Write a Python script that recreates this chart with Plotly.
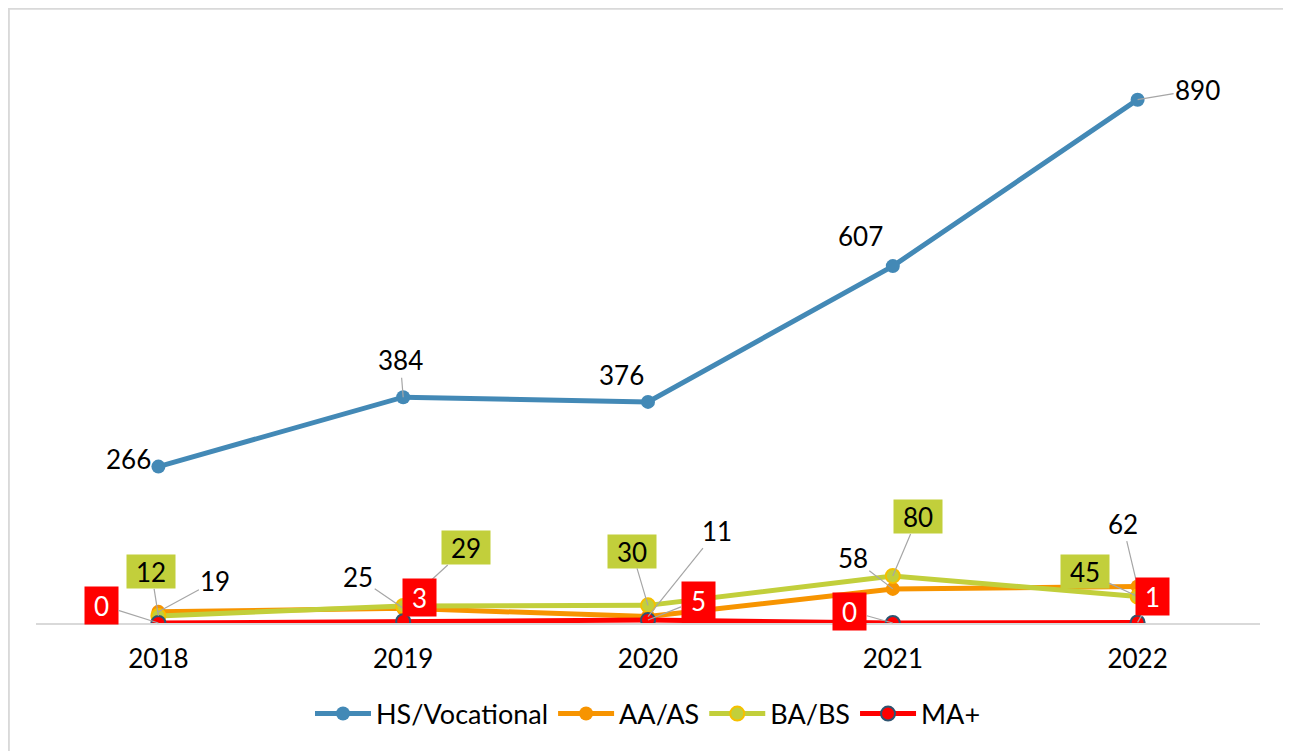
import plotly.graph_objects as go

years = ["2018", "2019", "2020", "2021", "2022"]
hs_vocational = [266, 384, 376, 607, 890]
aa_as = [19, 25, 11, 58, 62]
ba_bs = [12, 29, 30, 80, 45]
ma_plus = [0, 3, 5, 0, 1]

FONT = "Lato"
PAGE_OFF = 8  # default body margin of the html page
W, H = 1291 - PAGE_OFF, 751 - PAGE_OFF
ML, MR, MT, MB = 28, 31, 27, 128
PW, PH = W - ML - MR, H - MT - MB


def px_x(p):
    """screen px -> paper x"""
    return (p - PAGE_OFF - ML) / PW


def px_y(p):
    """screen px -> paper y"""
    return (H - MB - (p - PAGE_OFF)) / PH


series = [
    dict(name="HS/Vocational", y=hs_vocational, color="#4389B6",
         mfill="#4389B6", mline="#4389B6", mlw=0,
         lab=dict(bg=None, fc="#000000"),
         off=[(-30, -8), (-3, -37), (-27, -27), (-32, -30), (60, -10)],
         lead=[False, True, False, False, True]),
    dict(name="AA/AS", y=aa_as, color="#F79400",
         mfill="#F79400", mline="#F79400", mlw=0,
         lab=dict(bg=None, fc="#000000"),
         off=[(57, -31), (-45, -31), (69, -86), (-40, -31), (-15, -63)],
         lead=[True, True, True, True, True]),
    dict(name="BA/BS", y=ba_bs, color="#C2CF3B",
         mfill="#C2CF3B", mline="#F5C000", mlw=2,
         lab=dict(bg="#C2CF3B", fc="#000000", w=48, h=33),
         off=[(-7, -44), (63, -58), (-16, -54), (25, -59), (-53, -25)],
         lead=[True, True, True, True, True]),
    dict(name="MA+", y=ma_plus, color="#FF0000",
         mfill="#FF0000", mline="#2E5470", mlw=2,
         lab=dict(bg="#FF0000", fc="#FFFFFF", w=33, h=37),
         off=[(-57, -18), (16, -24), (50, -20), (-43, -12), (15, -26)],
         lead=[True, False, True, True, True]),
]

fig = go.Figure()
annotations = []
for s in series:
    fig.add_trace(go.Scatter(
        x=years, y=s["y"], name=s["name"], mode="lines+markers",
        line=dict(color=s["color"], width=5),
        marker=dict(size=14, color=s["mfill"],
                    line=dict(color=s["mline"], width=s["mlw"])),
        hoverinfo="skip",
    ))
    for i, yv in enumerate(s["y"]):
        ax, ay = s["off"][i]
        a = dict(x=i, y=yv, xref="x", yref="y", text=str(yv),
                 showarrow=True, ax=ax, ay=ay, arrowhead=0, arrowwidth=1.2,
                 arrowcolor="#A6A6A6" if s["lead"][i] else "rgba(0,0,0,0)",
                 standoff=0,
                 font=dict(family=FONT, size=26, color=s["lab"]["fc"]))
        if s["lab"]["bg"]:
            a.update(bgcolor=s["lab"]["bg"], borderpad=0,
                     width=s["lab"]["w"], height=s["lab"]["h"],
                     align="center", valign="middle")
        annotations.append(a)

shapes = [
    dict(type="rect", xref="paper", yref="paper",
         x0=px_x(8.6), x1=px_x(1288), y0=px_y(8.6), y1=px_y(790),
         line=dict(color="#D9D9D9", width=2.5), fillcolor="rgba(0,0,0,0)",
         layer="below"),
    dict(type="line", xref="paper", yref="paper",
         x0=px_x(1290.3), x1=px_x(1290.3), y0=px_y(8.6), y1=px_y(790),
         line=dict(color="#FFFF33", width=1.5)),
]

fig.update_layout(
    width=W, height=H,
    margin=dict(l=ML, r=MR, t=MT, b=MB, autoexpand=False),
    paper_bgcolor="#FFFFFF", plot_bgcolor="#FFFFFF",
    font=dict(family=FONT, size=26, color="#000000"),
    xaxis=dict(type="category", range=[-0.5, len(years) - 0.5], autorange=False,
               showline=True, linecolor="#D9D9D9", linewidth=1.5,
               showgrid=False, zeroline=False, ticks="",
               ticklabelstandoff=12,
               tickfont=dict(family=FONT, size=26, color="#000000")),
    yaxis=dict(range=[0, 1000], autorange=False, visible=False,
               showgrid=False, zeroline=False),
    showlegend=True,
    legend=dict(orientation="h", x=0.5, xanchor="center", y=px_y(714),
                yanchor="middle", font=dict(family=FONT, size=27, color="#000000"),
                itemwidth=56, bgcolor="rgba(0,0,0,0)"),
    annotations=annotations,
    shapes=shapes,
)

fig.write_html("out.html")
